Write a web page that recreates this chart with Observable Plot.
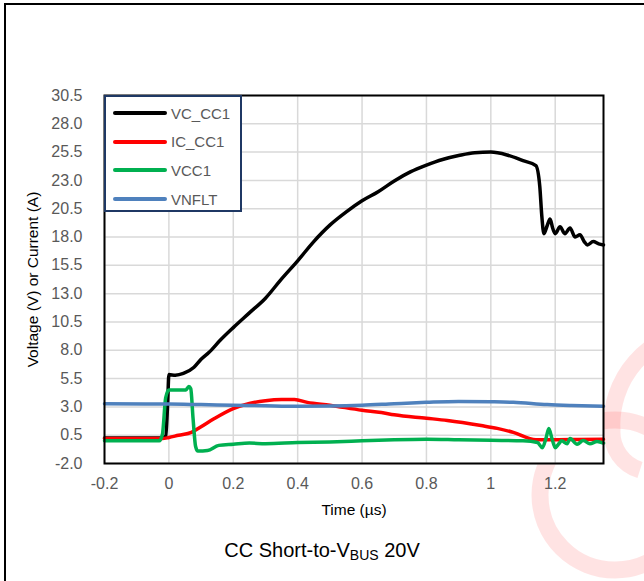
<!DOCTYPE html>
<html>
<head>
<meta charset="utf-8">
<script src="https://cdn.jsdelivr.net/npm/d3@7"></script>
<script src="https://cdn.jsdelivr.net/npm/@observablehq/plot@0.6"></script>
<style>
  body { margin: 0; background: #fff; font-family: "Liberation Sans", Arial, sans-serif; }
  #fig { position: relative; width: 644px; height: 581px; overflow: hidden; background: #fff; }
  #border { position: absolute; left: 4px; top: 3px; width: 800px; height: 800px;
            border-left: 2px solid #000; border-top: 2px solid #000; }
  #mark { position: absolute; left: 0; top: 0; }
  #chart { position: absolute; left: 0; top: 0; }
  #legend { position: absolute; left: 104px; top: 95px; width: 134px; height: 113px;
            border: 2px solid #1f3864; background: #fff; }
  .row { position: absolute; left: 0; height: 20px; display: flex; align-items: center; }
  .sw { display: inline-block; width: 54px; height: 4px; margin-left: 7px; border-radius: 2px; }
  .lab { margin-left: 4px; font-size: 15px; color: #595959; }
  #title { position: absolute; left: 0; width: 644px; top: 539px; text-align: center;
           font-size: 20px; color: #000; }
  #title sub { font-size: 14px; vertical-align: -3px; }
</style>
</head>
<body>
<div id="fig">
  <svg id="mark" width="644" height="581">
    <g fill="none" stroke="#ff0000" stroke-opacity="0.11" stroke-width="17">
      <circle cx="615" cy="495" r="75"></circle>
      <path d="M 700 330 A 95 95 0 0 0 612 430 A 40 40 0 0 0 640 470"></path>
    </g>
  </svg>
  <div id="chart"></div>
  <div id="border"></div>
  <div id="legend"></div>
  <div id="title">CC Short-to-V<sub>BUS</sub> 20V</div>
</div>
<script>
// Axis ticks
const xTicks = [-0.2, 0, 0.2, 0.4, 0.6, 0.8, 1, 1.2];
const yTicks = [-2, 0.5, 3, 5.5, 8, 10.5, 13, 15.5, 18, 20.5, 23, 25.5, 28, 30.5];

// VC_CC1 (V)
const vcTime  = [-0.2, -0.1, -0.02, -0.01, -0.004, 0.0, 0.02, 0.045, 0.078, 0.1, 0.124, 0.16, 0.2, 0.25, 0.3, 0.35, 0.4, 0.45, 0.5, 0.55, 0.6, 0.65, 0.7, 0.75, 0.8, 0.85, 0.9, 0.95, 1.0, 1.05, 1.1, 1.14, 1.152, 1.158, 1.165, 1.175, 1.184, 1.192, 1.2, 1.215, 1.23, 1.246, 1.262, 1.277, 1.29, 1.3, 1.318, 1.335, 1.35];
const vcValue = [0.25, 0.25, 0.25, 0.4, 3.2, 5.85, 5.8, 5.95, 6.5, 7.2, 7.8, 8.9, 10.0, 11.3, 12.6, 14.3, 15.9, 17.6, 19.05, 20.2, 21.2, 22.0, 22.95, 23.75, 24.35, 24.85, 25.2, 25.45, 25.5, 25.25, 24.75, 24.3, 22.5, 20.0, 18.3, 19.0, 19.6, 18.8, 18.3, 18.9, 18.3, 18.8, 18.0, 18.2, 17.6, 17.3, 17.6, 17.4, 17.3];

// IC_CC1 (A)
const icTime  = [-0.2, -0.1, -0.02, 0.0, 0.03, 0.07, 0.1, 0.14, 0.2, 0.25, 0.3, 0.35, 0.39, 0.43, 0.5, 0.6, 0.66, 0.7, 0.8, 0.865, 0.97, 1.02, 1.07, 1.14, 1.2, 1.27, 1.35];
const icValue = [0.2, 0.2, 0.2, 0.3, 0.5, 0.75, 1.25, 1.95, 2.85, 3.3, 3.55, 3.65, 3.65, 3.4, 3.15, 2.7, 2.5, 2.3, 2.0, 1.8, 1.35, 1.1, 0.75, 0.1, 0.1, 0.12, 0.15];

// VCC1 (V)
const vccTime  = [-0.2, -0.1, -0.03, -0.02, -0.01, 0.0, 0.03, 0.053, 0.062, 0.068, 0.075, 0.083, 0.09, 0.12, 0.155, 0.2, 0.25, 0.3, 0.4, 0.5, 0.6, 0.7, 0.8, 0.9, 1.0, 1.1, 1.145, 1.16, 1.172, 1.18, 1.19, 1.2, 1.21, 1.22, 1.237, 1.246, 1.268, 1.287, 1.308, 1.33, 1.35];
const vccValue = [0.0, 0.0, 0.0, 0.6, 3.8, 4.5, 4.5, 4.5, 4.8, 4.6, 2.0, -0.5, -0.9, -0.85, -0.4, -0.3, -0.2, -0.25, -0.15, -0.1, 0.0, 0.1, 0.15, 0.1, 0.05, 0.0, -0.15, -0.6, 0.3, 1.1, 0.2, -0.6, -0.3, 0.0, -0.25, 0.2, -0.3, 0.03, -0.25, -0.05, -0.2];

// VNFLT (V)
const nfTime  = [-0.2, 0.0, 0.1, 0.2, 0.3, 0.4, 0.5, 0.6, 0.7, 0.8, 0.9, 1.0, 1.07, 1.175, 1.25, 1.35];
const nfValue = [3.27, 3.25, 3.2, 3.15, 3.1, 3.06, 3.08, 3.15, 3.28, 3.4, 3.48, 3.45, 3.4, 3.2, 3.12, 3.05];

const series = [
  {name: "VC_CC1", color: "#000000", t: vcTime,  v: vcValue},
  {name: "IC_CC1", color: "#ff0000", t: icTime,  v: icValue},
  {name: "VCC1",   color: "#00b050", t: vccTime, v: vccValue},
  {name: "VNFLT",  color: "#4f81bd", t: nfTime,  v: nfValue}
];

const rows = s => s.t.map((t, i) => ({t, v: s.v[i]}));

const chart = Plot.plot({
  width: 644,
  height: 530,
  marginLeft: 104,
  marginRight: 41,
  marginTop: 95,
  marginBottom: 67,
  style: {fontFamily: "'Liberation Sans', Arial, sans-serif", fontSize: "16px", color: "#595959", background: "transparent"},
  x: {domain: [-0.2, 1.35], ticks: xTicks, tickFormat: d => String(+d.toFixed(1)), tickSize: 0, tickPadding: 14, label: null},
  y: {domain: [-2, 30.5], ticks: yTicks, tickFormat: d => d.toFixed(1), tickSize: 0, tickPadding: 22, label: null},
  marks: [
    Plot.frame({fill: "#fff"}),
    Plot.gridX(xTicks, {stroke: "#d9d9d9", strokeOpacity: 1, strokeWidth: 1.5}),
    Plot.gridY(yTicks, {stroke: "#d9d9d9", strokeOpacity: 1, strokeWidth: 1.5}),
    ...series.map(s => Plot.line(rows(s), {x: "t", y: "v", stroke: s.color, strokeWidth: 3.5, curve: "monotone-x", strokeLinejoin: "round", strokeLinecap: "round"})),
    Plot.frame({stroke: "#000", strokeWidth: 2}),
    Plot.text(["Time (µs)"], {frameAnchor: "bottom", dy: 51, fill: "#000", fontSize: 15.5}),
    Plot.text(["Voltage (V) or Current (A)"], {frameAnchor: "left", textAnchor: "middle", rotate: -90, dx: -71, fill: "#000", fontSize: 15.5})
  ]
});
document.getElementById("chart").appendChild(chart);

// Legend entries
const legend = d3.select("#legend");
series.forEach((s, i) => {
  const row = legend.append("div").attr("class", "row").style("top", (6 + i * 28.7) + "px");
  row.append("span").attr("class", "sw").style("background", s.color);
  row.append("span").attr("class", "lab").text(s.name);
});
</script>
</body>
</html>
